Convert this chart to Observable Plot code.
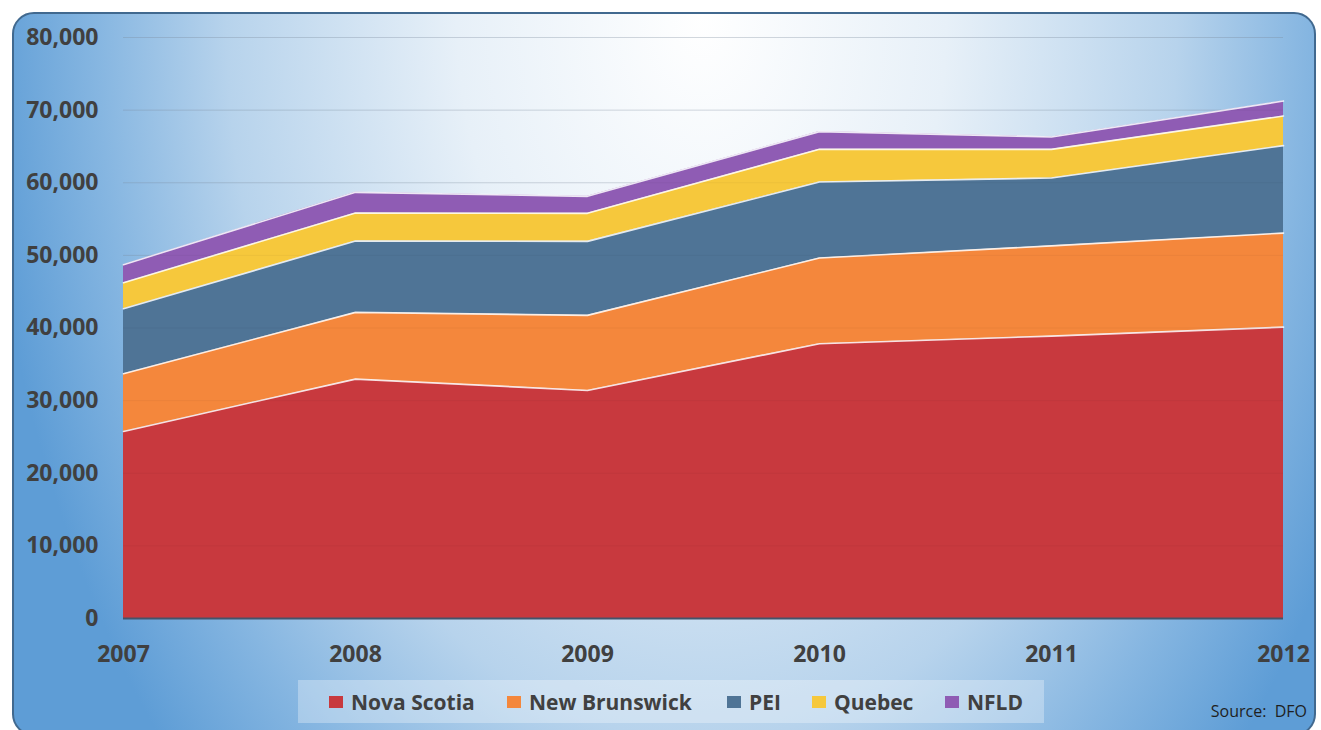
<!DOCTYPE html>
<html>
<head>
<meta charset="utf-8">
<script src="https://cdn.jsdelivr.net/npm/d3@7"></script>
<script src="https://cdn.jsdelivr.net/npm/@observablehq/plot@0.6"></script>
<style>
  html, body { margin: 0; padding: 0; background: #ffffff; }
  #page { position: relative; width: 1321px; height: 730px; overflow: hidden; font-family: "Open Sans", sans-serif; }
  #frame {
    position: absolute; left: 12px; top: 12px; width: 1300px; height: 720px;
    border: 2px solid #41698f; border-radius: 22px;
    background: radial-gradient(ellipse 720px 1100px at 688px 0px, #ffffff 0%, #e7f0f8 34%, #b7d3ec 66%, #86b6e1 84%, #5e9dd6 100%);
  }
  #chart { position: absolute; left: 0; top: 0; }
  #legend {
    position: absolute; left: 298px; top: 680px; width: 746px; height: 43px;
    background: rgba(255,255,255,0.3);
  }
  .item { position: absolute; top: 0; height: 43px; display: flex; align-items: center; }
  .sw { width: 14px; height: 12px; margin-right: 8px; }
  .lab { font-family: "Open Sans", sans-serif; font-weight: 700; font-size: 21px; color: #404040; white-space: nowrap; }
  #source { position: absolute; right: 14px; top: 700px; font-family: "Open Sans", sans-serif; font-size: 16px; color: #1f1f1f; white-space: pre; }
</style>
</head>
<body>
<div id="page">
  <div id="frame"></div>
  <div id="chart"></div>
  <div id="legend"></div>
  <div id="source">Source:  DFO</div>
</div>
<script>
// ---- data ----
const years = [2007, 2008, 2009, 2010, 2011, 2012];
const seriesNames = ["Nova Scotia", "New Brunswick", "PEI", "Quebec", "NFLD"];
const novaScotia   = [25760, 32960, 31400, 37830, 38880, 40120];
const newBrunswick = [7940, 9190, 10340, 11800, 12430, 12950];
const pei          = [8960, 9820, 10190, 10470, 9340, 12040];
const quebec       = [3580, 3860, 3860, 4500, 3950, 4080];
const nfld         = [2480, 2850, 2340, 2440, 1700, 2060];
const yTicks = [0, 10000, 20000, 30000, 40000, 50000, 60000, 70000, 80000];

// ---- styles ----
const colors = ["#c8393e", "#f4873c", "#4f7496", "#f6c83c", "#8f5cb4"];
const legendX = [329, 507, 727, 812, 945];

const seriesValues = [novaScotia, newBrunswick, pei, quebec, nfld];
const data = seriesNames.flatMap((s, i) => years.map((yr, j) => ({year: yr, series: s, value: seriesValues[i][j]})));

const chart = Plot.plot({
  width: 1321,
  height: 670,
  marginLeft: 123,
  marginRight: 38,
  marginTop: 37,
  marginBottom: 52,
  style: {background: "transparent", fontFamily: "Open Sans", color: "#404040"},
  x: {domain: [2007, 2012], label: null},
  y: {domain: [0, 80000], label: null},
  color: {domain: seriesNames, range: colors},
  marks: [
    Plot.gridY(yTicks, {stroke: "#8a9bb0", strokeOpacity: 0.3, strokeWidth: 1}),
    Plot.areaY(data, {x: "year", y: "value", z: "series", fill: "series", fillOpacity: 1}),
    Plot.lineY(data, Plot.stackY2({x: "year", y: "value", z: "series", stroke: "#ffffff", strokeWidth: 1.6, strokeOpacity: 0.85})),
    Plot.gridY(yTicks.slice(1), {stroke: "#000000", strokeOpacity: 0.04, strokeWidth: 1}),
    Plot.ruleY([0], {stroke: "#44546a", strokeWidth: 2}),
    Plot.axisY(yTicks, {tickSize: 0, tickPadding: 25, tickFormat: d3.format(","), fontSize: 23, fontWeight: 700, fill: "#404040", label: null}),
    Plot.axisX(years, {tickSize: 0, tickPadding: 27, tickFormat: d => String(d), fontSize: 23, fontWeight: 700, fill: "#404040", label: null})
  ]
});
document.getElementById("chart").appendChild(chart);

const legend = document.getElementById("legend");
seriesNames.forEach((s, i) => {
  const it = document.createElement("div");
  it.className = "item";
  it.style.left = (legendX[i] - 298) + "px";
  const sw = document.createElement("div");
  sw.className = "sw";
  sw.style.background = colors[i];
  const lab = document.createElement("span");
  lab.className = "lab";
  lab.textContent = s;
  it.appendChild(sw);
  it.appendChild(lab);
  legend.appendChild(it);
});
</script>
</body>
</html>
